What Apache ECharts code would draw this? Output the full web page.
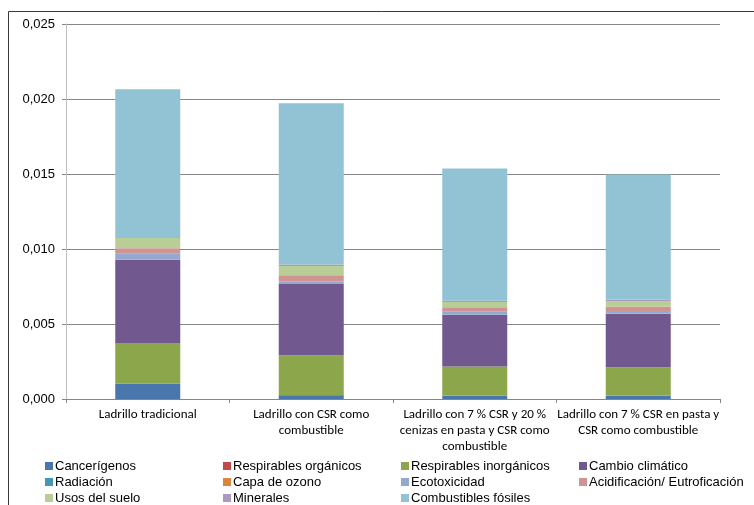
<!DOCTYPE html>
<html>
<head>
<meta charset="utf-8">
<script src="https://cdn.jsdelivr.net/npm/echarts@6/dist/echarts.min.js"></script>
<style>
html,body{margin:0;padding:0;background:#fff;}
#c{width:754px;height:505px;}
</style>
</head>
<body>
<div id="c"></div>
<script>
const categories = [
  "Ladrillo tradicional",
  "Ladrillo con CSR como\ncombustible",
  "Ladrillo con 7 % CSR y 20 %\ncenizas en pasta y CSR como\ncombustible",
  "Ladrillo con 7 % CSR en pasta y\nCSR como combustible"
];
const seriesNames = [
  "Cancerígenos", "Respirables orgánicos", "Respirables inorgánicos", "Cambio climático",
  "Radiación", "Capa de ozono", "Ecotoxicidad", "Acidificación/ Eutroficación",
  "Usos del suelo", "Minerales", "Combustibles fósiles"
];
const cancerigenos = [0.00100, 0.00025, 0.00022, 0.00022];
const respOrganicos = [0.00001, 0.00001, 0.00001, 0.00001];
const respInorganicos = [0.00273, 0.00265, 0.00193, 0.00189];
const cambioClimatico = [0.00555, 0.00475, 0.00345, 0.00356];
const radiacion = [0.00001, 0.00001, 0.00001, 0.00001];
const capaOzono = [0.000005, 0.000005, 0.000005, 0.000005];
const ecotoxicidad = [0.00038, 0.00018, 0.00020, 0.00018];
const acidificacion = [0.00037, 0.00040, 0.00029, 0.00027];
const usosSuelo = [0.00070, 0.00062, 0.00036, 0.00037];
const minerales = [0.00005, 0.00010, 0.00007, 0.00010];
const combustiblesFosiles = [0.00985, 0.01075, 0.00882, 0.00835];
const yTicks = { min: 0, max: 0.025, interval: 0.005 };

const values = [cancerigenos, respOrganicos, respInorganicos, cambioClimatico, radiacion,
  capaOzono, ecotoxicidad, acidificacion, usosSuelo, minerales, combustiblesFosiles];
const colors = ["#4A76AE", "#BE4B48", "#8BA64B", "#71588F", "#4198AF", "#DB843D",
  "#93A9CF", "#D19392", "#B9CD96", "#A99BBD", "#92C3D4"];

const chart = echarts.init(document.getElementById('c'), null, {renderer: 'canvas'});
chart.setOption({
  animation: false,
  backgroundColor: '#fff',
  color: colors,
  graphic: [{
    type: 'rect', silent: true,
    shape: {x: 8.5, y: 11.5, width: 800, height: 600},
    style: {fill: 'none', stroke: '#3a3a3a', lineWidth: 1}
  }],
  grid: {left: 66, right: 34, top: 24, bottom: 106, containLabel: false},
  legend: {
    data: seriesNames,
    left: 40, top: 453, width: 740,
    orient: 'horizontal',
    itemWidth: 8, itemHeight: 8, itemGap: 0,
    icon: 'rect',
    selectedMode: false,
    textStyle: {fontFamily: 'Liberation Sans, Arial, sans-serif', fontSize: 13, color: '#000',
      width: 168, lineHeight: 16, padding: [0, 0, 0, -3]}
  },
  xAxis: {
    type: 'category', data: categories,
    axisLine: {lineStyle: {color: '#868686', width: 1}},
    axisTick: {show: true, length: 4, lineStyle: {color: '#868686'}},
    axisLabel: {interval: 0, margin: 8, color: '#000', fontSize: 13, lineHeight: 16,
      fontFamily: 'Carlito, Liberation Sans Narrow, Liberation Sans, sans-serif'}
  },
  yAxis: {
    type: 'value', min: yTicks.min, max: yTicks.max, interval: yTicks.interval,
    axisLine: {show: true, lineStyle: {color: '#bfbfbf', width: 1}},
    axisTick: {show: true, length: 4, lineStyle: {color: '#868686'}},
    splitLine: {lineStyle: {color: '#868686', width: 1}},
    axisLabel: {margin: 11, color: '#000', fontSize: 13,
      fontFamily: 'Liberation Sans, Arial, sans-serif',
      formatter: v => v.toFixed(3).replace('.', ',')}
  },
  series: seriesNames.map((n, i) => ({
    name: n, type: 'bar', stack: 'total', data: values[i],
    barCategoryGap: '60%', barWidth: 65
  }))
});
</script>
</body>
</html>
